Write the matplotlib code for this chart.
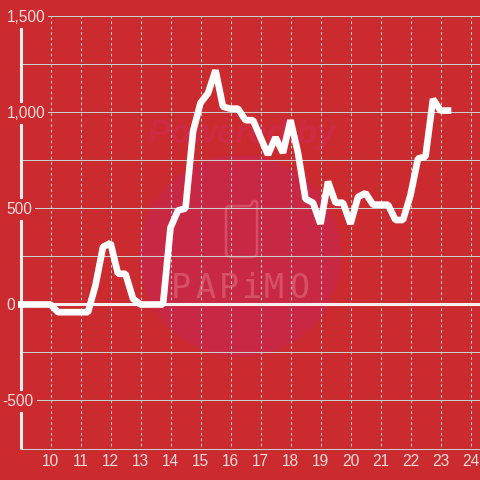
import matplotlib
matplotlib.use("Agg")
import matplotlib.pyplot as plt
from matplotlib.patches import Circle, PathPatch
from matplotlib.path import Path
from matplotlib.transforms import blended_transform_factory as btf, offset_copy

values = [0, 0, 0, 0, 0, -40, -40, -40, -40, -40, 100, 300, 320, 160, 160, 30, 0, 0, 0, 0,
          400, 490, 500, 900, 1050, 1100, 1220, 1030, 1020, 1020, 960, 960, 870, 780, 870, 790,
          960, 790, 550, 530, 420, 640, 530, 530, 420, 560, 580, 520, 520, 520, 440, 440, 570,
          760, 770, 1070, 1010, 1010]
hours = [9 + i * 0.25 for i in range(len(values))]
x_ticks = list(range(10, 25))
y_grid = [-750, -500, -250, 250, 500, 750, 1000, 1250, 1500]
y_labels = {1500: "1,500", 1000: "1,000", 500: "500", 0: "0", -500: "-500"}

BG = "#cb2a2e"
GRID = "#c9cfca"
LABEL = "#f6dcdc"
WM = "#d85a6c"
plt.rcParams["font.family"] = ["Liberation Sans", "DejaVu Sans"]

W = H = 480.0
fig = plt.figure(figsize=(4.8, 4.8), dpi=100, facecolor=BG)

# pixel layer for the watermark and text placement
px = fig.add_axes([0, 0, 1, 1], facecolor="none", zorder=0.5)
px.set_xlim(0, W)
px.set_ylim(H, 0)
px.axis("off")

ax = fig.add_axes([20.5 / W, 1 - 448.5 / H, (W - 20.5) / W, (448.5 - 16.5) / H], zorder=1)
ax.patch.set_visible(False)
ax.set_xlim(9, 9 + (W - 20.5) / 30)
ax.set_ylim(-750, 1500)
for s in ax.spines.values():
    s.set_visible(False)
ax.set_xticks([])
ax.set_yticks([])

px.add_patch(Circle((240, 256), 101, fc="#c92845", ec="none", zorder=1))
px.text(242, 135, "Powered by", color="#cf2a45", fontsize=24, fontweight="bold", style="italic",
        ha="center", va="center", zorder=2)
for ch, cx in zip("PAPiMO", [181, 205, 229, 251, 274, 299]):
    px.text(cx, 289, ch, color=WM, fontsize=24, ha="center", va="center",
            family="DejaVu Sans Mono", alpha=0.85, zorder=2)
icon = Path([(226, 210), (226, 206), (230, 206), (249, 206), (252, 206), (252, 203), (252, 201),
             (254.5, 201), (257, 201), (257, 203), (257, 252), (257, 257), (252, 257),
             (231, 257), (226, 257), (226, 252), (226, 210)],
            [Path.MOVETO, Path.CURVE3, Path.CURVE3, Path.LINETO, Path.CURVE3, Path.CURVE3,
             Path.CURVE3, Path.CURVE3, Path.CURVE3, Path.CURVE3, Path.LINETO, Path.CURVE3, Path.CURVE3,
             Path.LINETO, Path.CURVE3, Path.CURVE3, Path.LINETO])
px.add_patch(PathPatch(icon, fc="none", ec=WM, lw=1.8, alpha=0.8, zorder=2))

for v in y_grid:
    ax.axhline(v, color=GRID, lw=0.75, zorder=1, clip_on=False)
for t in x_ticks:
    ax.plot([t, t], [-735, 1500], color=GRID, lw=0.75, dashes=(2.6, 2.6), zorder=1, clip_on=False)
ax.axhline(0, color="#f7eeee", lw=2.2, zorder=2)
ax.axvline(9, color="#f4eeee", lw=2.2, zorder=2, clip_on=False, solid_capstyle="butt")

ax.plot(hours, values, color="white", lw=4.8, solid_joinstyle="bevel", solid_capstyle="projecting",
        zorder=3, clip_on=False)

tr = offset_copy(btf(px.transData, ax.transData), fig=fig, y=-0.7, units="points")
for v, s in y_labels.items():
    ax.text(2.5 if v < 0 else 6.5, v, s, transform=tr, color=LABEL, fontsize=11.2, ha="left", va="center",
            zorder=4, bbox=dict(fc=BG, ec="none", pad=2.2))
tr_x = btf(ax.transData, px.transData)
for t in x_ticks:
    ax.text(t, 461, str(t), transform=tr_x, color=LABEL, fontsize=11.2, ha="center", va="center",
            zorder=4, clip_on=False)

fig.savefig("out.png", dpi=100, facecolor=BG)
